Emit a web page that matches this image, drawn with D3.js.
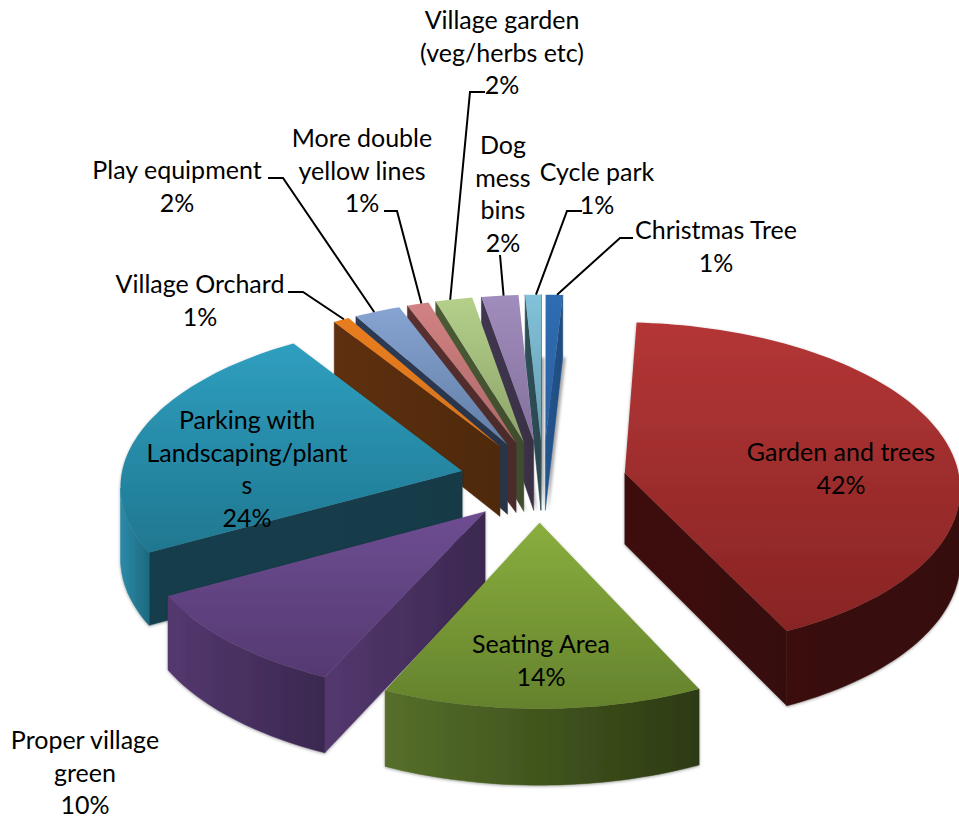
<!DOCTYPE html>
<html>
<head>
<meta charset="utf-8">
<script src="https://cdn.jsdelivr.net/npm/d3@7"></script>
<style>
    body { margin: 0; background: #fff; }
    text { font-family: Lato, "Open Sans", sans-serif; font-size: 25px; fill: #000; }
</style>
</head>
<body>
<div id="chart"></div>
<script>
    // Data, clockwise from the top of the pie
    const categories = ["Garden and trees", "Seating Area", "Proper village green", "Parking with Landscaping/plants",
        "Village Orchard", "Play equipment", "More double yellow lines", "Village garden (veg/herbs etc)",
        "Dog mess bins", "Cycle park", "Christmas Tree"];
    const values = [42, 14, 10.15, 23.85, 0.85, 2.45, 1.15, 1.95, 1.95, 0.85, 0.9];
    const labelLines = [["Garden and trees"], ["Seating Area"], ["Proper village", "green"], ["Parking with", "Landscaping/plant", "s"],
        ["Village Orchard"], ["Play equipment"], ["More double", "yellow lines"], ["Village garden", "(veg/herbs etc)"],
        ["Dog", "mess", "bins"], ["Cycle park"], ["Christmas Tree"]];

    // top gradient start, top gradient end, wall left, wall right
    const topLight = ["#b43636", "#8aae3e", "#6e4d92", "#2f9fc0", "#e87d1e", "#87a4d2", "#d28282", "#b4d08a", "#a18dbd", "#82c2da", "#2f6cb2"];
    const topDark = ["#882424", "#64822d", "#543971", "#1f7790", "#d8741b", "#617ea6", "#ad6868", "#8da36a", "#84709b", "#689cae", "#2a60a0"];
    const wallLight = ["#3f1110", "#566f2a", "#54386f", "#143e4c", "#5f300f", "#2c3b56", "#5a3030", "#4b5b36", "#40364f", "#2f5059", "#24568f"];
    const wallDark = ["#360d0d", "#2c3a12", "#3b2850", "#133a47", "#4e290b", "#283448", "#4a2a2a", "#3f4c2d", "#3a3046", "#2b474f", "#1f4c80"];
    const rimLight = ["#3a0f0e", "#566f2a", "#54386f", "#2c8aa7", "#5f300f", "#2c3b56", "#5a3030", "#4b5b36", "#40364f", "#2f5059", "#24568f"];
    const rimDark = ["#360d0d", "#2c3a12", "#3a2850", "#1d6a80", "#4e290b", "#283448", "#4a2a2a", "#3f4c2d", "#3a3046", "#2b474f", "#1f4c80"];

    const width = 959;
    const height = 821;
    const center = {x: 543, y: 481};
    const radius = {x: 335, y: 164};
    const perspective = 0.08;
    const explode = 0.25;
    const rotation = 3.3 * Math.PI / 180;
    // seating slice sits a little left of where its angle puts it
    const sliceShift = {1: -0.012};
    // the two left slices reach a little further out sideways
    const sliceStretch = {2: 1.015, 3: 1.02};

    // Label placement: centre x and first line centre y
    const labelX = [841, 541, 85, 247, 200, 177, 362, 502, 503, 597, 716];
    const labelY = [453, 645, 741, 421, 285, 171, 139, 21, 146, 173, 231];
    // Leader lines: where they leave the label, elbow x/y
    const leaderStart = {4: [[288, 292], [303, 292]], 5: [[268, 178], [283, 178]], 6: [[384, 211], [397, 211]],
        7: [[485, 92], [470, 92]], 8: [[500, 255]], 9: [[582, 211], [567, 211]], 10: [[633, 238], [620, 238]]};
    const leaderAngle = {4: 0.5, 5: 0.42, 6: 0.55, 7: 0.45, 8: 0.5, 9: 0.6, 10: 0.55};
    const lineHeight = 32.7;

    const depth = d3.scaleLinear().domain([300, 470, 690]).range([62, 71, 76]);

    const viz = d3.select("#chart")
        .append("svg")
        .attr("width", width)
        .attr("height", height)
        .style("display", "block");

    const defs = viz.append("defs");
    defs.append("filter").attr("id", "soft").append("feGaussianBlur").attr("stdDeviation", 1.5);
    defs.append("filter").attr("id", "shadow").append("feDropShadow")
        .attr("dx", 0).attr("dy", 1).attr("stdDeviation", 1.5).attr("flood-color", "#000").attr("flood-opacity", 0.35);

    function gradient(id, c1, c2, vertical) {
        const g = defs.append("linearGradient").attr("id", id)
            .attr("x1", 0).attr("y1", 0)
            .attr("x2", vertical ? 0 : 1).attr("y2", vertical ? 1 : 0);
        g.append("stop").attr("offset", 0).attr("stop-color", c1);
        g.append("stop").attr("offset", 1).attr("stop-color", c2);
        return `url(#${id})`;
    }

    // Pie plane to screen, far side shrinks
    function project(X, Y) {
        const w = 1 + perspective * Y;
        return [center.x + radius.x * X / w, center.y - radius.y * Y / w];
    }

    const lower = p => [p[0], p[1] + depth(p[1])];
    const toPath = pts => "M" + pts.map(p => p[0].toFixed(1) + "," + p[1].toFixed(1)).join("L") + "Z";

    const arcs = d3.pie().sort(null)(values);

    const slices = arcs.map(function(d, i) {
        const a0 = d.startAngle + rotation;
        const a1 = d.endAngle + rotation;
        const mid = (a0 + a1) / 2;
        const ox = explode * Math.sin(mid) + (sliceShift[i] || 0);
        const oy = explode * Math.cos(mid);
        const stretch = sliceStretch[i] || 1;
        const rim = d3.range(0, 1.0001, 1 / Math.max(2, Math.ceil((a1 - a0) * 40))).map(function(t) {
            const a = a0 + (a1 - a0) * t;
            return project(ox + stretch * Math.sin(a), oy + Math.cos(a));
        });
        return {i, mid, ox, oy, apex: project(ox, oy), rim};
    });

    // Floor shadow under the thin slices
    const shadow = viz.append("g").attr("filter", "url(#soft)");
    slices.filter(s => s.i >= 4).forEach(function(s) {
        shadow.append("path")
            .attr("d", toPath([s.apex].concat(s.rim).map(lower)))
            .attr("transform", "translate(3,1)")
            .attr("fill", "#a8a8a8");
    });

    // Thin slices right to left, then the big ones back to front
    const order = [10, 9, 8, 7, 6, 5, 4, 0, 3, 2, 1];

    order.forEach(function(i) {
        const s = slices[i];
        const g = viz.append("g").attr("class", "slice").attr("filter", i < 4 ? "url(#shadow)" : null);
        const wallFill = gradient(`wall${i}`, wallLight[i], wallDark[i], false);
        const rimFill = gradient(`rim${i}`, rimLight[i], rimDark[i], false);
        const last = s.rim[s.rim.length - 1];

        // a wall faces the viewer when the clockwise outline runs leftwards
        function wall(pts, fill) {
            g.append("path")
                .attr("d", toPath(pts.concat(pts.slice().reverse().map(lower))))
                .attr("fill", fill)
                .attr("stroke", fill)
                .attr("stroke-width", 0.5);
        }
        if (s.rim[0][0] < s.apex[0]) wall([s.apex, s.rim[0]], wallFill);
        if (s.apex[0] < last[0]) wall([last, s.apex], wallFill);

        const run = s.rim.filter(function(p, k) {
            const prev = s.rim[k - 1], next = s.rim[k + 1];
            return (prev && p[0] < prev[0]) || (next && next[0] < p[0]);
        });
        if (run.length > 1) wall(run, rimFill);

        g.append("path")
            .attr("d", toPath([s.apex].concat(s.rim)))
            .attr("fill", gradient(`top${i}`, topLight[i], topDark[i], true));
    });

    // Leader lines
    const line = d3.line();
    Object.keys(leaderStart).forEach(function(key) {
        const s = slices[key];
        const tip = s.rim[Math.round((s.rim.length - 1) * leaderAngle[key])];
        viz.append("path")
            .attr("d", line(leaderStart[key].concat([tip])))
            .attr("fill", "none")
            .attr("stroke", "#000")
            .attr("stroke-width", 2);
    });

    // Labels
    categories.forEach(function(name, i) {
        const lines = labelLines[i].concat([d3.format(".0%")(values[i] / 100)]);
        const t = viz.append("text")
            .attr("class", "label")
            .attr("text-anchor", "middle");
        lines.forEach(function(l, k) {
            t.append("tspan")
                .attr("x", labelX[i])
                .attr("y", labelY[i] + k * lineHeight + 8)
                .text(l);
        });
    });
</script>
</body>
</html>
